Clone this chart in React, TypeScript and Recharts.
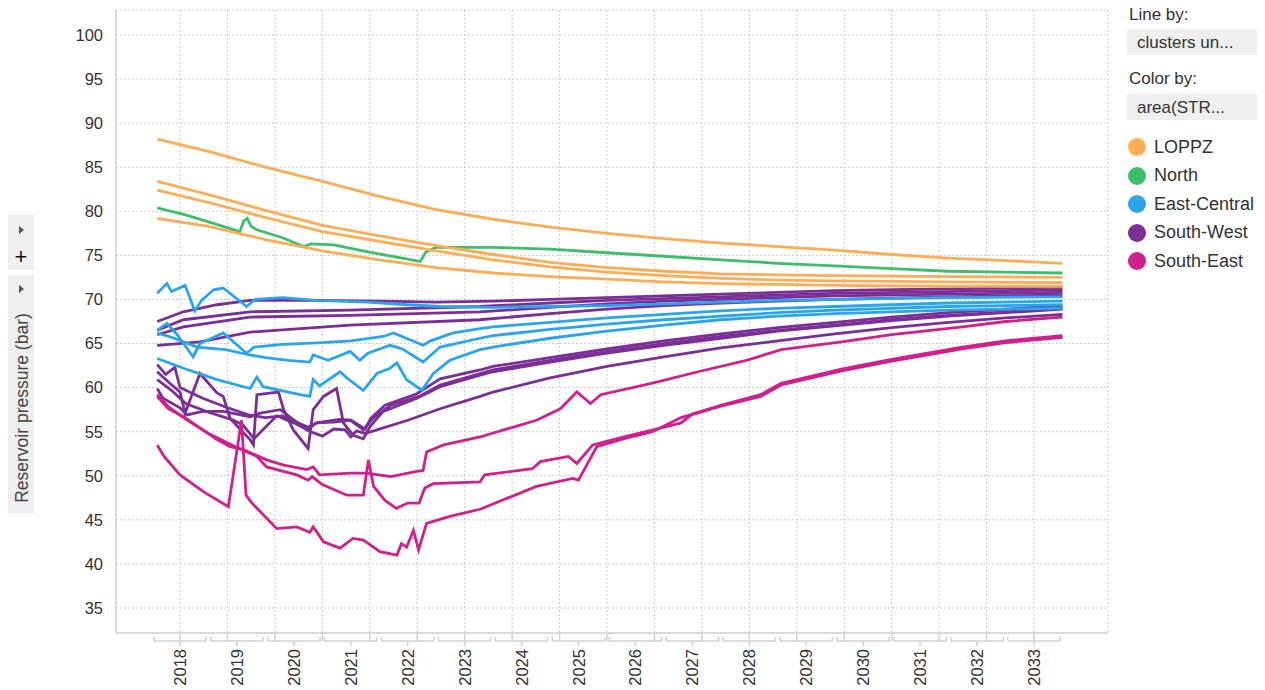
import React from 'react';
import { LineChart, Line, XAxis, YAxis, CartesianGrid } from 'recharts';

type Pt = [number, number];

// time axis (decimal years) and pressure axis
const T_MIN = 2017.376;
const T_MAX = 2034.8;
const Y_MIN = 32.164;
const Y_MAX = 102.836;
const Y_TICKS = [35, 40, 45, 50, 55, 60, 65, 70, 75, 80, 85, 90, 95, 100];
const GRID_TICKS = [2018.5, 2019.333, 2020.167, 2021, 2021.833, 2022.667, 2023.5, 2024.333, 2025.167, 2026, 2026.833, 2027.667, 2028.5, 2029.333, 2030.167, 2031, 2031.833, 2032.667, 2033.5];
const YEAR_TICKS = [2018.5, 2019.5, 2020.5, 2021.5, 2022.5, 2023.5, 2024.5, 2025.5, 2026.5, 2027.5, 2028.5, 2029.5, 2030.5, 2031.5, 2032.5, 2033.5];
const YEAR_LABELS = ['2018', '2019', '2020', '2021', '2022', '2023', '2024', '2025', '2026', '2027', '2028', '2029', '2030', '2031', '2032', '2033'];

// LOPPZ
const LOPPZ_1: Pt[] = [[2018.1, 88.2], [2019, 86.8], [2020, 85.0], [2021, 83.4], [2022, 81.7], [2023, 80.2], [2024, 79.1], [2025, 78.2], [2026, 77.5], [2027, 76.9], [2028, 76.4], [2029, 76.0], [2030, 75.6], [2031, 75.1], [2032, 74.7], [2033, 74.4], [2034, 74.1]];
const LOPPZ_2: Pt[] = [[2018.1, 83.4], [2019, 81.9], [2020, 80.1], [2021, 78.4], [2022, 77.2], [2023, 76.1], [2024, 75.1], [2025, 74.2], [2026, 73.6], [2027, 73.2], [2028, 72.9], [2029, 72.8], [2030, 72.7], [2032, 72.6], [2034, 72.5]];
const LOPPZ_3: Pt[] = [[2018.1, 82.4], [2019, 81.0], [2020, 79.3], [2021, 77.7], [2022, 76.6], [2023, 75.5], [2024, 74.5], [2025, 73.7], [2026, 73.1], [2027, 72.7], [2028, 72.4], [2029, 72.2], [2030, 72.1], [2032, 72.0], [2034, 71.9]];
const LOPPZ_4: Pt[] = [[2018.1, 79.2], [2019, 78.3], [2020, 76.8], [2021, 75.5], [2022, 74.5], [2023, 73.6], [2024, 73.0], [2025, 72.6], [2026, 72.3], [2027, 72.0], [2028, 71.8], [2029, 71.7], [2030, 71.6], [2032, 71.5], [2034, 71.5]];

// North
const NORTH_1: Pt[] = [[2018.1, 80.4], [2018.6, 79.6], [2019.0, 78.8], [2019.55, 77.7], [2019.62, 78.9], [2019.68, 79.2], [2019.75, 78.3], [2019.85, 77.9], [2020.3, 77.0], [2020.67, 76.0], [2020.8, 76.3], [2021.2, 76.2], [2021.8, 75.4], [2022.4, 74.7], [2022.72, 74.3], [2022.82, 75.4], [2023.0, 75.9], [2024, 75.9], [2025, 75.7], [2026, 75.3], [2027, 74.9], [2028, 74.5], [2029, 74.1], [2030, 73.8], [2031, 73.5], [2032, 73.2], [2033, 73.1], [2034, 73.0]];

// East-Central
const EC_1: Pt[] = [[2018.1, 70.7], [2018.27, 71.8], [2018.35, 70.9], [2018.59, 71.6], [2018.76, 68.7], [2018.88, 69.9], [2019.09, 71.1], [2019.26, 71.3], [2019.67, 69.2], [2019.82, 70.0], [2020.3, 70.2], [2020.9, 69.9], [2021.8, 69.7], [2022.5, 69.4], [2023.07, 69.2], [2024, 69.1], [2025, 69.2], [2026, 69.3], [2027, 69.5], [2028, 69.7], [2029, 69.9], [2030, 70.0], [2032, 70.2], [2034, 70.3]];
const EC_2: Pt[] = [[2018.1, 66.5], [2018.27, 67.3], [2018.45, 66.0], [2018.73, 63.5], [2018.85, 65.0], [2019.26, 66.2], [2019.67, 63.9], [2019.8, 64.6], [2020.3, 64.9], [2021.0, 65.1], [2021.5, 65.3], [2022.07, 65.8], [2022.25, 66.2], [2022.77, 64.8], [2022.9, 65.3], [2023.3, 66.2], [2023.77, 66.7], [2024, 66.9], [2025, 67.4], [2026, 67.9], [2027, 68.3], [2028, 68.7], [2029, 69.0], [2030, 69.2], [2032, 69.6], [2034, 69.8]];
const EC_3: Pt[] = [[2018.1, 66.2], [2018.4, 65.6], [2018.8, 64.6], [2019.3, 64.3], [2019.73, 63.7], [2020.0, 63.4], [2020.4, 63.1], [2020.78, 62.9], [2020.84, 63.7], [2021.1, 63.1], [2021.49, 64.1], [2021.66, 63.1], [2021.8, 63.9], [2022.19, 64.8], [2022.4, 64.4], [2022.77, 62.9], [2023.07, 64.6], [2023.77, 65.6], [2024, 65.9], [2025, 66.6], [2026, 67.2], [2027, 67.7], [2028, 68.1], [2029, 68.5], [2030, 68.8], [2032, 69.2], [2034, 69.4]];
const EC_4: Pt[] = [[2018.1, 63.3], [2018.56, 62.2], [2019.15, 60.9], [2019.73, 59.9], [2019.85, 61.2], [2019.96, 60.1], [2020.61, 59.2], [2020.78, 59.0], [2020.84, 60.9], [2020.95, 60.2], [2021.31, 61.8], [2021.45, 61.0], [2021.72, 59.7], [2021.96, 61.6], [2022.19, 62.2], [2022.31, 62.8], [2022.48, 60.9], [2022.66, 60.1], [2022.75, 59.7], [2022.95, 61.6], [2023.24, 63.1], [2023.77, 64.3], [2024, 64.6], [2025, 65.6], [2026, 66.4], [2027, 67.1], [2028, 67.7], [2029, 68.1], [2030, 68.4], [2032, 68.8], [2034, 69.0]];

// South-West
const SW_1: Pt[] = [[2018.1, 67.5], [2018.56, 68.6], [2019.15, 69.4], [2019.73, 69.9], [2020.9, 69.9], [2022, 69.8], [2023, 69.7], [2024, 69.8], [2025, 70.0], [2026, 70.2], [2027, 70.4], [2028, 70.6], [2029, 70.8], [2030, 71.0], [2031, 71.1], [2032, 71.2], [2033, 71.3], [2034, 71.4]];
const SW_2: Pt[] = [[2018.1, 66.5], [2018.56, 67.7], [2019.73, 68.6], [2021.49, 68.8], [2023.77, 69.2], [2025, 69.6], [2026, 69.9], [2027, 70.1], [2028, 70.3], [2029, 70.5], [2030, 70.7], [2032, 70.9], [2034, 71.1]];
const SW_3: Pt[] = [[2018.1, 66.0], [2018.56, 66.9], [2019.73, 68.0], [2021.49, 68.2], [2023.77, 68.6], [2025, 69.1], [2026, 69.5], [2027, 69.8], [2028, 70.0], [2029, 70.2], [2030, 70.4], [2032, 70.6], [2034, 70.8]];
const SW_4: Pt[] = [[2018.1, 64.8], [2018.85, 65.2], [2019.73, 66.3], [2021.49, 67.1], [2023.77, 67.7], [2025, 68.4], [2026, 68.9], [2027, 69.3], [2028, 69.6], [2029, 69.8], [2030, 70.0], [2032, 70.3], [2034, 70.5]];
const SW_5: Pt[] = [[2018.1, 62.6], [2018.25, 61.5], [2018.41, 62.3], [2018.5, 60.0], [2018.9, 58.8], [2019.3, 57.8], [2019.7, 56.9], [2020.0, 56.6], [2020.3, 56.8], [2020.75, 55.5], [2020.9, 56.0], [2021.3, 56.4], [2021.5, 56.3], [2021.75, 55.3], [2021.85, 56.5], [2022.1, 58.0], [2022.66, 59.3], [2023.07, 61.0], [2023.77, 62.0], [2024, 62.4], [2025, 63.4], [2026, 64.4], [2027, 65.3], [2028, 66.1], [2029, 66.8], [2030, 67.4], [2031, 68.0], [2032, 68.5], [2033, 68.9], [2034, 69.3]];
const SW_6: Pt[] = [[2018.1, 61.8], [2018.3, 60.6], [2018.5, 59.5], [2018.59, 57.1], [2018.85, 61.6], [2019.15, 59.4], [2019.26, 59.0], [2019.38, 56.5], [2019.73, 54.1], [2019.79, 53.5], [2019.85, 59.2], [2020.23, 59.5], [2020.32, 57.5], [2020.49, 55.2], [2020.75, 53.1], [2020.84, 57.5], [2021.02, 59.0], [2021.25, 59.9], [2021.37, 56.0], [2021.54, 54.6], [2021.72, 54.2], [2021.84, 55.6], [2022.07, 57.3], [2022.66, 58.8], [2023.07, 60.1], [2023.77, 61.4], [2024, 61.8], [2025, 62.9], [2026, 63.9], [2027, 64.8], [2028, 65.6], [2029, 66.4], [2030, 67.0], [2031, 67.6], [2032, 68.1], [2033, 68.5], [2034, 68.9]];
const SW_7: Pt[] = [[2018.1, 60.9], [2018.35, 59.7], [2018.6, 58.2], [2019.0, 57.2], [2019.4, 56.4], [2019.6, 55.8], [2019.8, 54.2], [2020.0, 55.5], [2020.2, 56.8], [2020.5, 56.0], [2020.8, 55.0], [2021.0, 54.5], [2021.2, 55.3], [2021.4, 55.2], [2021.5, 54.4], [2021.6, 55.1], [2021.75, 54.8], [2022.0, 55.3], [2022.5, 56.3], [2023.07, 57.6], [2023.77, 59.0], [2024, 59.5], [2025, 61.1], [2026, 62.4], [2027, 63.5], [2028, 64.5], [2029, 65.3], [2030, 66.1], [2031, 66.8], [2032, 67.4], [2033, 67.9], [2034, 68.3]];
const SW_8: Pt[] = [[2018.1, 59.9], [2018.2, 58.8], [2018.5, 57.7], [2018.62, 56.9], [2018.9, 57.3], [2019.26, 57.3], [2019.73, 56.7], [2019.91, 57.1], [2020.26, 57.5], [2020.73, 55.2], [2020.9, 56.0], [2021.2, 56.1], [2021.49, 56.3], [2021.72, 55.2], [2021.9, 56.6], [2022.2, 58.0], [2022.7, 59.0], [2023.07, 60.3], [2023.77, 61.6], [2024, 62.0], [2025, 63.1], [2026, 64.1], [2027, 65.0], [2028, 65.8], [2029, 66.5], [2030, 67.1], [2031, 67.7], [2032, 68.2], [2033, 68.6], [2034, 69.0]];

// South-East
const SE_1: Pt[] = [[2018.1, 53.5], [2018.22, 52.2], [2018.5, 50.1], [2018.91, 48.2], [2019.35, 46.5], [2019.58, 56.3], [2019.66, 47.8], [2019.75, 47.0], [2020.2, 44.0], [2020.55, 44.2], [2020.78, 43.6], [2020.84, 44.2], [2021.02, 42.5], [2021.31, 41.8], [2021.54, 42.9], [2021.72, 42.7], [2021.81, 42.3], [2022.01, 41.4], [2022.31, 41.0], [2022.39, 42.3], [2022.48, 41.9], [2022.6, 43.8], [2022.69, 41.6], [2022.83, 44.6], [2023.24, 45.4], [2023.77, 46.2], [2024.76, 48.8], [2025.4, 49.7], [2025.5, 49.5], [2025.82, 53.3], [2026.3, 54.2], [2026.8, 55.0], [2027.3, 56.6], [2027.58, 57.1], [2028, 57.9], [2028.7, 59.0], [2029.06, 60.3], [2030.12, 61.9], [2031, 63.0], [2032.24, 64.4], [2033, 65.1], [2034, 65.7]];
const SE_2: Pt[] = [[2018.1, 59.2], [2018.3, 57.8], [2018.56, 56.6], [2019.0, 54.8], [2019.5, 53.2], [2019.85, 52.2], [2020.02, 51.0], [2020.55, 50.1], [2020.75, 49.5], [2020.82, 49.9], [2021.0, 49.0], [2021.43, 47.8], [2021.72, 47.8], [2021.81, 51.8], [2021.9, 48.8], [2022.1, 47.2], [2022.3, 46.3], [2022.5, 46.9], [2022.7, 46.9], [2022.8, 48.6], [2022.95, 49.1], [2023.77, 49.3], [2023.85, 50.1], [2024.69, 50.8], [2024.83, 51.6], [2025.32, 52.2], [2025.47, 51.4], [2025.75, 53.5], [2026.3, 54.4], [2026.81, 55.2], [2027.3, 56.0], [2027.5, 57.0], [2028, 58.0], [2028.7, 59.2], [2029.06, 60.5], [2030.12, 62.1], [2031, 63.2], [2032.24, 64.6], [2033, 65.3], [2034, 65.9]];
const SE_3: Pt[] = [[2018.1, 59.0], [2018.3, 57.6], [2018.56, 56.7], [2019.15, 54.1], [2019.38, 53.3], [2019.6, 53.0], [2020.02, 51.8], [2020.32, 51.2], [2020.73, 50.7], [2020.84, 51.0], [2020.95, 50.1], [2021.5, 50.3], [2021.78, 50.3], [2022.2, 49.9], [2022.66, 50.5], [2022.77, 50.6], [2022.83, 52.7], [2023.13, 53.5], [2023.77, 54.4], [2024.76, 56.3], [2025.18, 57.6], [2025.47, 59.5], [2025.71, 58.2], [2025.89, 59.2], [2026.8, 60.5], [2027.6, 61.8], [2028.45, 63.1], [2029.06, 64.3], [2030.12, 65.2], [2031, 66.0], [2032.24, 66.9], [2033, 67.5], [2034, 68.0]];

const COLORS = {
  LOPPZ: '#FFAC57',
  North: '#3DBE6B',
  'East-Central': '#2AA5EC',
  'South-West': '#7A2E96',
  'South-East': '#D11F8B',
};

const SERIES: { name: string; area: keyof typeof COLORS; pts: Pt[] }[] = [
  { name: 'sw1', area: 'South-West', pts: SW_1 },
  { name: 'sw2', area: 'South-West', pts: SW_2 },
  { name: 'sw3', area: 'South-West', pts: SW_3 },
  { name: 'sw4', area: 'South-West', pts: SW_4 },
  { name: 'sw5', area: 'South-West', pts: SW_5 },
  { name: 'sw6', area: 'South-West', pts: SW_6 },
  { name: 'sw7', area: 'South-West', pts: SW_7 },
  { name: 'sw8', area: 'South-West', pts: SW_8 },
  { name: 'se1', area: 'South-East', pts: SE_1 },
  { name: 'se2', area: 'South-East', pts: SE_2 },
  { name: 'se3', area: 'South-East', pts: SE_3 },
  { name: 'ec1', area: 'East-Central', pts: EC_1 },
  { name: 'ec2', area: 'East-Central', pts: EC_2 },
  { name: 'ec3', area: 'East-Central', pts: EC_3 },
  { name: 'ec4', area: 'East-Central', pts: EC_4 },
  { name: 'n1', area: 'North', pts: NORTH_1 },
  { name: 'l1', area: 'LOPPZ', pts: LOPPZ_1 },
  { name: 'l2', area: 'LOPPZ', pts: LOPPZ_2 },
  { name: 'l3', area: 'LOPPZ', pts: LOPPZ_3 },
  { name: 'l4', area: 'LOPPZ', pts: LOPPZ_4 },
];

const LEGEND: (keyof typeof COLORS)[] = ['LOPPZ', 'North', 'East-Central', 'South-West', 'South-East'];

const W = 1265;
const H = 690;
const MARGIN = { top: 10, right: 157, bottom: 0, left: 0 };
const Y_AXIS_W = 116;
const PX_PER_YEAR = (W - MARGIN.right - MARGIN.left - Y_AXIS_W) / (T_MAX - T_MIN);
const FONT = "'Liberation Sans', Arial, sans-serif";
const AXIS_GREY = '#d2d2d2';

const toRows = (pts: Pt[]) => pts.map(([t, v]) => ({ t, v }));

const NoTick = () => <g />;

function YearTick(props: any) {
  const { x, y, payload } = props;
  const half = PX_PER_YEAR * 0.46;
  const by = y + 7;
  const label = YEAR_LABELS[YEAR_TICKS.indexOf(payload.value)] ?? String(Math.floor(payload.value));
  return (
    <g>
      <path
        d={`M${x - half},${by - 4}V${by}H${x + half}V${by - 4}M${x},${by}V${by + 5}`}
        stroke={AXIS_GREY}
        strokeWidth={1.5}
        fill="none"
      />
      <text
        x={x + 6}
        y={by + 8}
        transform={`rotate(-90, ${x + 6}, ${by + 8})`}
        textAnchor="end"
        fontSize={16.5}
        fontFamily={FONT}
        fill="#333"
      >
        {label}
      </text>
    </g>
  );
}

function Arrow({ top }: { top: number }) {
  return (
    <svg style={{ position: 'absolute', left: 18, top }} width={8} height={10}>
      <polygon points="1,1 6,5 1,9" fill="#555" />
    </svg>
  );
}

export default function App() {
  return (
    <div style={{ position: 'absolute', left: 0, top: 0, width: W, height: H, fontFamily: FONT, color: '#333', background: '#fff' }}>
      <LineChart width={W} height={H} margin={MARGIN}>
        <CartesianGrid xAxisId="g" yAxisId="y" stroke="#cccccc" strokeDasharray="2 2" />
        <XAxis
          xAxisId="g"
          dataKey="t"
          type="number"
          domain={[T_MIN, T_MAX]}
          allowDataOverflow
          ticks={GRID_TICKS}
          interval={0}
          height={1}
          tickSize={8}
          tick={NoTick}
          tickLine={{ stroke: AXIS_GREY, strokeWidth: 1.5 }}
          axisLine={{ stroke: AXIS_GREY, strokeWidth: 1.5 }}
        />
        <XAxis
          xAxisId="lab"
          dataKey="t"
          type="number"
          domain={[T_MIN, T_MAX]}
          allowDataOverflow
          ticks={YEAR_TICKS}
          interval={0}
          height={56}
          tickSize={0}
          tickMargin={0}
          tickLine={false}
          axisLine={false}
          tick={YearTick}
        />
        <YAxis
          yAxisId="y"
          type="number"
          domain={[Y_MIN, Y_MAX]}
          allowDataOverflow
          ticks={Y_TICKS}
          interval={0}
          width={Y_AXIS_W}
          tickSize={0}
          tickMargin={13}
          tickLine={false}
          axisLine={{ stroke: AXIS_GREY, strokeWidth: 1.5 }}
          tick={{ fill: '#333', fontSize: 16.5, fontFamily: FONT }}
        />
        {SERIES.map((s) => (
          <Line
            key={s.name}
            xAxisId="g"
            yAxisId="y"
            data={toRows(s.pts)}
            dataKey="v"
            type="linear"
            stroke={COLORS[s.area]}
            strokeWidth={2.8}
            dot={false}
            activeDot={false}
            isAnimationActive={false}
          />
        ))}
      </LineChart>

      {/* left side controls */}
      <div style={{ position: 'absolute', left: 8, top: 215, width: 26, height: 55, background: '#efefef' }}>
        <div style={{ position: 'absolute', left: 0, top: 31, width: 26, textAlign: 'center', fontSize: 22, lineHeight: '22px', color: '#111' }}>+</div>
      </div>
      <Arrow top={225} />
      <div style={{ position: 'absolute', left: 8, top: 275, width: 26, height: 238, background: '#efefef' }} />
      <Arrow top={284} />
      <div
        style={{
          position: 'absolute',
          left: 22,
          top: 408,
          transform: 'translate(-50%, -50%) rotate(-90deg)',
          whiteSpace: 'nowrap',
          fontSize: 17.5,
          color: '#444',
        }}
      >
        Reservoir pressure (bar)
      </div>

      {/* right side legend */}
      <div style={{ position: 'absolute', left: 1129, top: 5, fontSize: 17 }}>Line by:</div>
      <div style={{ position: 'absolute', left: 1127, top: 29, width: 130, height: 26, background: '#efefef' }}>
        <div style={{ position: 'absolute', left: 10, top: 4, fontSize: 17, whiteSpace: 'nowrap' }}>clusters un...</div>
      </div>
      <div style={{ position: 'absolute', left: 1129, top: 69, fontSize: 17 }}>Color by:</div>
      <div style={{ position: 'absolute', left: 1127, top: 94, width: 130, height: 26, background: '#efefef' }}>
        <div style={{ position: 'absolute', left: 10, top: 4, fontSize: 17, whiteSpace: 'nowrap' }}>area(STR...</div>
      </div>
      {LEGEND.map((name, i) => (
        <div key={name} style={{ position: 'absolute', left: 1128, top: 137 + i * 28.6, height: 20, display: 'flex', alignItems: 'center' }}>
          <div style={{ width: 18, height: 18, borderRadius: 9, background: COLORS[name] }} />
          <div style={{ marginLeft: 8, fontSize: 18, whiteSpace: 'nowrap' }}>{name}</div>
        </div>
      ))}
    </div>
  );
}
